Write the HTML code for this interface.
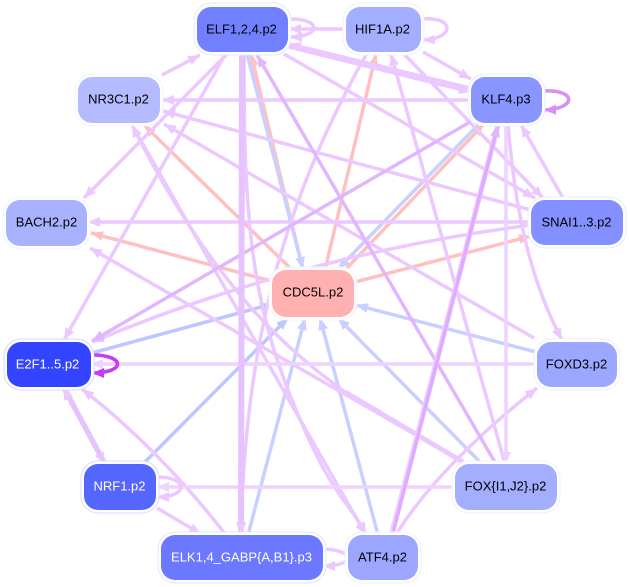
<!DOCTYPE html>
<html><head><meta charset="utf-8"><style>
html,body{margin:0;padding:0;background:#fff;width:630px;height:587px;overflow:hidden}
svg{display:block}
text{font-family:"Liberation Sans",sans-serif;font-size:13px;text-anchor:middle}
path{fill:none}
marker path{stroke:none}
</style></head><body>
<svg width="630" height="587" viewBox="0 0 630 587" xmlns="http://www.w3.org/2000/svg">
<defs>
<marker id="mL" markerUnits="userSpaceOnUse" markerWidth="14" markerHeight="12" refX="12" refY="6" orient="auto"><path d="M0,1L12,6L0,11z" style="fill:#ebc8ff"/></marker>
<marker id="mD" markerUnits="userSpaceOnUse" markerWidth="14" markerHeight="12" refX="12" refY="6" orient="auto"><path d="M0,1L12,6L0,11z" style="fill:#e2b6ff"/></marker>
<marker id="mS" markerUnits="userSpaceOnUse" markerWidth="14" markerHeight="12" refX="12" refY="6" orient="auto"><path d="M0,1L12,6L0,11z" style="fill:#eed2ff"/></marker>
<marker id="mB" markerUnits="userSpaceOnUse" markerWidth="14" markerHeight="12" refX="12" refY="6" orient="auto"><path d="M0,1L12,6L0,11z" style="fill:#c8d0ff"/></marker>
<marker id="mB2" markerUnits="userSpaceOnUse" markerWidth="14" markerHeight="12" refX="12" refY="6" orient="auto"><path d="M0,1L12,6L0,11z" style="fill:#bcc6ff"/></marker>
<marker id="mP" markerUnits="userSpaceOnUse" markerWidth="14" markerHeight="12" refX="12" refY="6" orient="auto"><path d="M0,1L12,6L0,11z" style="fill:#ffc0c0"/></marker>
<marker id="mK" markerUnits="userSpaceOnUse" markerWidth="14" markerHeight="12" refX="12" refY="6" orient="auto"><path d="M0,1L12,6L0,11z" style="fill:#d88ff5"/></marker>
<marker id="mE" markerUnits="userSpaceOnUse" markerWidth="14" markerHeight="12" refX="12" refY="6" orient="auto"><path d="M0,1L12,6L0,11z" style="fill:#c63cf5"/></marker>
</defs>

<g stroke="#ffc0c0" stroke-width="3.500" marker-end="url(#mP)">
<path d="M303,270L251,54"/>
<path d="M325,270L376,54"/>
<path d="M347,268L484,124"/>
<path d="M355,282L531,236"/>
<path d="M290,268L144,125"/>
<path d="M271,281L91,233"/>
</g>

<g stroke="#c8d0ff" stroke-width="3.500" marker-end="url(#mB)">
<path d="M247,54L303,269"/>
<path d="M478,125L338,269"/>
<path d="M248,535L305,318"/>
<path d="M378,535L320,318"/>
<path d="M482,464L338,318"/>
<path d="M536,352L356,305"/>
</g>
<g stroke="#bcc6ff" stroke-width="3.500" marker-end="url(#mB2)">
<path d="M92,353L272,304"/>
<path d="M144,463L288,318"/>
</g>

<g stroke="#ebc8ff" stroke-width="3.500" marker-end="url(#mL)">
<path d="M346,29L289,29"/>
<path d="M471,100L162,100"/>
<path d="M162,75L200,55"/>
<path d="M228,53L84,198"/>
<path d="M226,53L64,340"/>
<path d="M284,54L535,198"/>
<path d="M403,53L543,198"/>
<path d="M423,52L471,79"/>
<path d="M531,210L163,111"/>
<path d="M531,225Q300,255 92,342"/>
<path d="M531,222L88,222"/>
<path d="M563,198L521,125"/>
<path d="M505,464L391,54"/>
<path d="M534,338L164,124"/>
<path d="M508,124C515,210 530,280 562,340"/>
<path d="M397,533Q440,465 537,388"/>
<path d="M226,535Q160,450 82,389"/>
<path d="M157,508L201,534"/>
<path d="M367,53C290,190 245,330 241,534"/>
<path d="M244,53C244,200 248,290 290,395S345,495 366,534"/>
<path d="M132,125L366,535"/>
<path d="M463,462L345,392C290,352 215,290 132,125"/>
<path d="M463,462L90,248"/>
<path d="M463,462L345,392" stroke-width="5" marker-end="none"/>
</g>
<g stroke="#eed2ff" stroke-width="3.500" marker-end="url(#mS)">
<path d="M506,124L506,464"/>
<path d="M537,364L91,364"/>
<path d="M455,487L157,487"/>
</g>
<g stroke="#e2b6ff" stroke-width="3.500" marker-end="url(#mD)">
<path d="M496,464L257,55"/>
<path d="M470,122L92,341"/>
</g>

<path d="M392,533L498,125" stroke="#eecfff" stroke-width="5.500"/>
<path d="M393,533L498,125" stroke="#e0aaff" stroke-width="3.500" marker-end="url(#mD)"/>
<path d="M242,53L241,535" stroke="#e6c2ff" stroke-width="6" marker-end="url(#mL)"/>
<path d="M470,88L289,44" stroke="#ebc8ff" stroke-width="3.500" marker-end="url(#mL)"/>
<path d="M289,47L471,92" stroke="#ebc8ff" stroke-width="3.500" marker-end="url(#mL)"/>
<path d="M64,388L105,464" stroke="#e6c2ff" stroke-width="5.500" marker-end="url(#mL)"/>
<path d="M105,464L63,388" stroke="#e6c2ff" stroke-width="3.500" marker-end="url(#mL)"/>

<path d="M288,19C322,18 322,37 290,37" stroke="#ebc8ff" stroke-width="3.500" marker-end="url(#mL)"/>
<path d="M422,19C455,16 455,39 423,40" stroke="#ebc8ff" stroke-width="3.500" marker-end="url(#mL)"/>
<path d="M543,91C577,89 577,109 544,110" stroke="#d88ff5" stroke-width="3.500" marker-end="url(#mK)"/>
<path d="M92,355C126,355 126,373 92,373" stroke="#c63cf5" stroke-width="3.500" marker-end="url(#mE)"/>
<path d="M157,477C189,477 189,497 157,497" stroke="#ebc8ff" stroke-width="3.500" marker-end="url(#mL)"/>
<path d="M323,549C356,550 356,566 323,566" stroke="#ebc8ff" stroke-width="3.500" marker-end="url(#mL)"/>

<g stroke-width="1">
<rect x="194" y="3" width="97" height="52" rx="17" fill="#fff" stroke="#e4e8ff"/><rect x="197" y="7" width="91" height="45" rx="14" fill="#7080ff"/>
<rect x="343" y="3" width="81" height="52" rx="17" fill="#fff" stroke="#eef0ff"/><rect x="346" y="7" width="75" height="45" rx="14" fill="#a4aeff"/>
<rect x="468" y="74" width="77" height="52" rx="17" fill="#fff" stroke="#eaecff"/><rect x="471" y="77" width="71" height="46" rx="14" fill="#8a96ff"/>
<rect x="75" y="74" width="88" height="52" rx="17" fill="#fff" stroke="#f0f2ff"/><rect x="78" y="77" width="82" height="46" rx="14" fill="#b4bcff"/>
<rect x="3" y="197" width="87" height="52" rx="17" fill="#fff" stroke="#f0f2ff"/><rect x="6" y="200" width="81" height="46" rx="14" fill="#a8b2ff"/>
<rect x="528" y="197" width="98" height="51" rx="17" fill="#fff" stroke="#e8ebff"/><rect x="531" y="200" width="92" height="45" rx="14" fill="#8490ff"/>
<rect x="4" y="339" width="90" height="51" rx="17" fill="#fff" stroke="#d6dbff"/><rect x="7" y="342" width="84" height="45" rx="14" fill="#3344ff"/>
<rect x="534" y="339" width="86" height="51" rx="17" fill="#fff" stroke="#eef0ff"/><rect x="537" y="342" width="80" height="45" rx="14" fill="#9ca8ff"/>
<rect x="81" y="461" width="78" height="52" rx="17" fill="#fff" stroke="#d8dcff"/><rect x="84" y="464" width="72" height="46" rx="14" fill="#5566ff"/>
<rect x="452" y="461" width="108" height="52" rx="17" fill="#fff" stroke="#eef0ff"/><rect x="455" y="464" width="102" height="46" rx="14" fill="#a4aeff"/>
<rect x="158" y="532" width="168" height="51" rx="17" fill="#fff" stroke="#e0e4ff"/><rect x="161" y="535" width="162" height="45" rx="14" fill="#6c78ff"/>
<rect x="345" y="532" width="76" height="51" rx="17" fill="#fff" stroke="#eef0ff"/><rect x="348" y="535" width="70" height="45" rx="14" fill="#9ca6ff"/>
<rect x="269" y="267" width="88" height="53" rx="17" fill="#fff" stroke="#fff0f0"/><rect x="272" y="270" width="82" height="47" rx="14" fill="#ffb0b0"/>
</g>

<text x="241.500" y="33.500">ELF1,2,4.p2</text>
<text x="382.500" y="33.500">HIF1A.p2</text>
<text x="506" y="103.500">KLF4.p3</text>
<text x="118.500" y="103.500">NR3C1.p2</text>
<text x="46.500" y="226.500">BACH2.p2</text>
<text x="576.500" y="226.500">SNAI1..3.p2</text>
<text x="47.500" y="368.500" fill="#fff">E2F1..5.p2</text>
<text x="576.500" y="368.500">FOXD3.p2</text>
<text x="119.500" y="490.500" fill="#fff">NRF1.p2</text>
<text x="505.500" y="490.500">FOX{I1,J2}.p2</text>
<text x="241.500" y="561.500" fill="#fff">ELK1,4_GABP{A,B1}.p3</text>
<text x="382.500" y="561.500">ATF4.p2</text>
<text x="313" y="296.500">CDC5L.p2</text>
</svg>
</body></html>
